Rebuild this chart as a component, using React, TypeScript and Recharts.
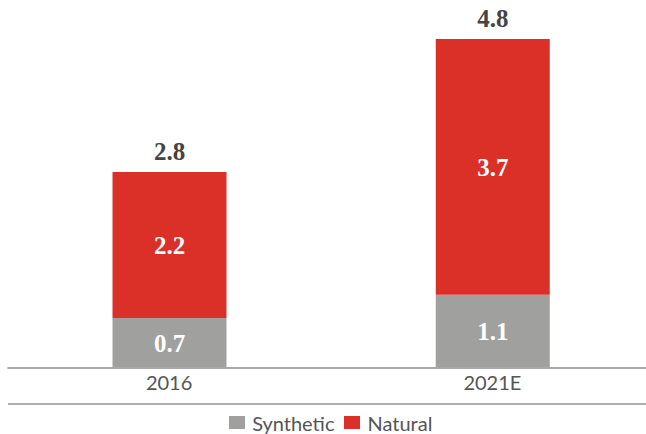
import React from "react";
import { BarChart, Bar, XAxis, YAxis, LabelList, Legend } from "recharts";

const categories = ["2016", "2021E"];
const syntheticValues = [0.73, 1.07];
const naturalValues = [2.13, 3.73];
const syntheticLabels = ["0.7", "1.1"];
const naturalLabels = ["2.2", "3.7"];
const totalLabels = ["2.8", "4.8"];

const RED = "#DA3028";
const GRAY = "#A0A19F";
const TEXT = "#555555";

const data = categories.map((c, i) => ({
  category: c,
  synthetic: syntheticValues[i],
  natural: naturalValues[i],
  syntheticLabel: syntheticLabels[i],
  naturalLabel: naturalLabels[i],
  totalLabel: totalLabels[i],
}));

const legendItems = [
  { name: "Synthetic", color: GRAY },
  { name: "Natural", color: RED },
];

const LegendContent = () => (
  <div
    style={{
      height: 31,
      boxSizing: "border-box",
      borderTop: "2px solid #b0b0b0",
      display: "flex",
      justifyContent: "center",
      alignItems: "center",
      paddingTop: 6,
      fontFamily: "Lato, sans-serif",
      fontSize: 20,
      color: TEXT,
    }}
  >
    {legendItems.map((it, i) => (
      <span key={it.name} style={{ display: "inline-flex", alignItems: "center", marginLeft: i ? 10 : 0 }}>
        <span style={{ display: "inline-block", width: 16, height: 13, background: it.color, marginRight: 7 }} />
        {it.name}
      </span>
    ))}
  </div>
);

const numStyle = { fontFamily: "'Liberation Serif', serif", fontWeight: 700, fontSize: 25 };

export default function App() {
  return (
    <div style={{ position: "absolute", left: 0, top: 0, width: 646, height: 434, overflow: "hidden", background: "#fff" }}>
      <BarChart
        width={654}
        height={434}
        data={data}
        margin={{ top: 39, right: 0, bottom: 0, left: 7.5 }}
        barSize={114}
      >
        <XAxis
          dataKey="category"
          axisLine={{ stroke: "#a8a8a8", strokeWidth: 2 }}
          tickLine={false}
          height={35}
          tick={{ fill: TEXT, fontSize: 20, fontFamily: "Lato, sans-serif" }}
        />
        <YAxis hide domain={[0, 4.8]} />
        <Legend verticalAlign="bottom" content={<LegendContent />} />
        <Bar dataKey="synthetic" name="Synthetic" stackId="a" fill={GRAY} isAnimationActive={false}>
          <LabelList dataKey="syntheticLabel" position="center" fill="#ffffff" style={numStyle} />
        </Bar>
        <Bar dataKey="natural" name="Natural" stackId="a" fill={RED} isAnimationActive={false}>
          <LabelList dataKey="naturalLabel" position="center" fill="#ffffff" style={numStyle} />
          <LabelList dataKey="totalLabel" position="top" offset={12} fill="#444444" style={numStyle} />
        </Bar>
      </BarChart>
    </div>
  );
}
